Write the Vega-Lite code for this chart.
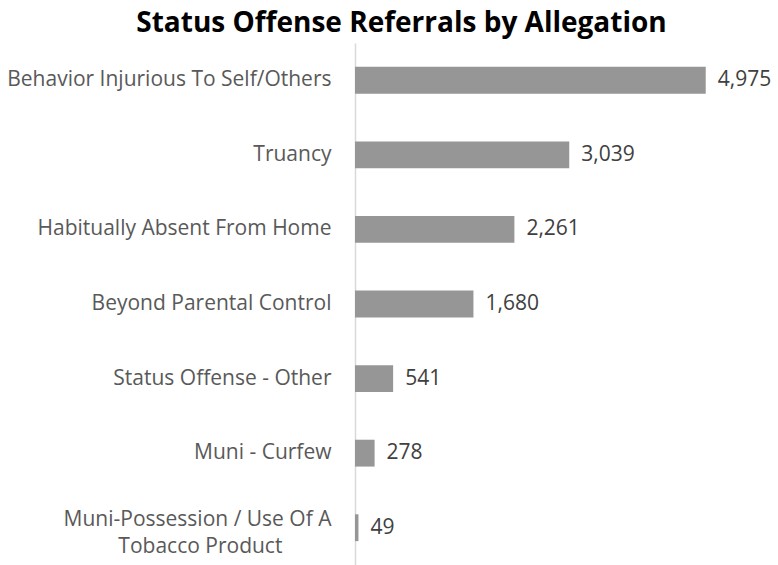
{
  "$schema": "https://vega.github.io/schema/vega-lite/v6.json",
  "autosize": {"type": "none"},
  "padding": {"left": 355, "top": 43, "right": 0, "bottom": 0},
  "width": 423,
  "height": 522,
  "background": "white",
  "title": {
    "text": "Status Offense Referrals by Allegation",
    "font": "Open Sans",
    "fontSize": 28,
    "fontWeight": "bold",
    "color": "#000000",
    "anchor": "middle",
    "frame": "group",
    "offset": 5,
    "dx": -165
  },
  "data": {
    "values": [
      {"allegation": "Behavior Injurious To Self/Others", "count": 4975},
      {"allegation": "Truancy", "count": 3039},
      {"allegation": "Habitually Absent From Home", "count": 2261},
      {"allegation": "Beyond Parental Control", "count": 1680},
      {"allegation": "Status Offense - Other", "count": 541},
      {"allegation": "Muni - Curfew", "count": 278},
      {"allegation": "Muni-Possession / Use Of A Tobacco Product", "count": 49}
    ]
  },
  "encoding": {
    "y": {
      "field": "allegation",
      "type": "nominal",
      "sort": null,
      "scale": {"paddingInner": 0.64, "paddingOuter": 0.32},
      "axis": {
        "title": null,
        "domainColor": "#d9d9d9",
        "domainWidth": 1.5,
        "ticks": false,
        "labelFont": "Open Sans",
        "labelFontSize": 21,
        "labelColor": "#595959",
        "labelPadding": 24,
        "labelLimit": 400,
        "labelLineHeight": 27,
        "labelOffset": {"condition": {"test": "datum.value == 'Muni-Possession / Use Of A Tobacco Product'", "value": -8}, "value": 0},
        "labelExpr": "datum.value == 'Muni-Possession / Use Of A Tobacco Product' ? ['Muni-Possession / Use Of A', 'Tobacco Product\u00a0\u00a0\u00a0\u00a0\u00a0\u00a0\u00a0\u00a0\u00a0\u200b'] : datum.value"
      }
    },
    "x": {
      "field": "count",
      "type": "quantitative",
      "scale": {"domain": [0, 6000]},
      "axis": null
    }
  },
  "layer": [
    {"mark": {"type": "bar", "color": "#969696"}},
    {
      "mark": {"type": "text", "align": "left", "dx": 12, "font": "Open Sans", "fontSize": 21, "color": "#404040"},
      "encoding": {"text": {"field": "count", "type": "quantitative", "format": ","}}
    }
  ],
  "config": {"view": {"stroke": null}}
}
